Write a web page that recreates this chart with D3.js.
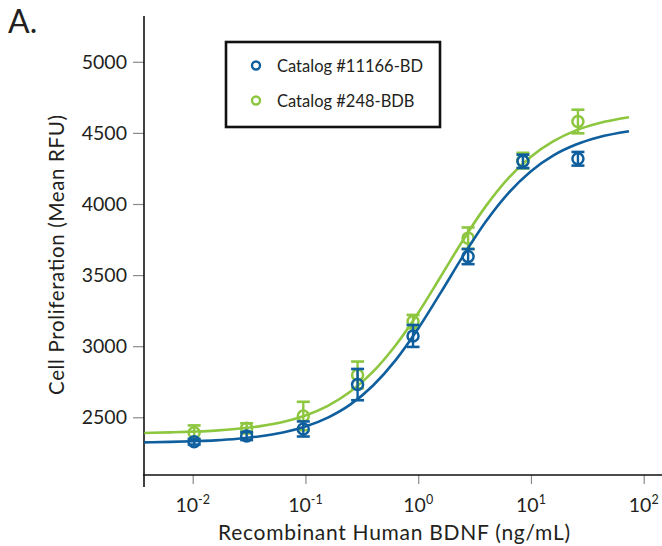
<!DOCTYPE html>
<html>
<head>
<meta charset="utf-8">
<script src="https://cdn.jsdelivr.net/npm/d3@7"></script>
<style>
  html, body { margin: 0; padding: 0; background: #fff; }
  svg { display: block; }
  text { font-family: Lato, "Noto Sans", sans-serif; fill: #231f20; }
</style>
</head>
<body>
<svg id="chart" width="662" height="546"></svg>
<script>
// ---- data ----
const concentrations = [0.0103, 0.0301, 0.0957, 0.290, 0.900, 2.77, 8.49, 26.1]; // ng/mL
const seriesNames = ["Catalog #11166-BD", "Catalog #248-BDB"];
const blueMeans = [2328, 2368, 2418, 2730, 3072, 3630, 4300, 4318];
const blueErrors = [20, 28, 53, 110, 77, 53, 47, 48];
const greenMeans = [2392, 2423, 2509, 2798, 3173, 3760, 4305, 4580];
const greenErrors = [51, 35, 100, 94, 47, 75, 55, 83];

// fitted curves as drawn
const curveConc = [0.00372, 0.00631, 0.01, 0.0158, 0.0251, 0.0398, 0.0631, 0.1, 0.158, 0.251,
                   0.398, 0.631, 1, 1.585, 2.512, 3.981, 6.31, 10, 15.85, 25.12, 39.81, 74.1];
const blueCurve = [2324, 2327, 2332, 2338, 2349, 2367, 2393, 2435, 2498, 2591,
                   2724, 2902, 3124, 3377, 3637, 3877, 4077, 4231, 4342, 4418, 4469, 4511];
const greenCurve = [2390, 2394, 2399, 2406, 2419, 2438, 2467, 2513, 2581, 2681,
                    2821, 3007, 3234, 3490, 3749, 3985, 4182, 4333, 4442, 4518, 4568, 4610];

const yTicks = [2500, 3000, 3500, 4000, 4500, 5000];
const xTicks = [0.01, 0.1, 1, 10, 100];
const xTickExponents = ["-2", "-1", "0", "1", "2"];

const colors = { blue: "#0f5f9f", green: "#8dc63f" };

// ---- scales ----
const svg = d3.select("#chart");
const x = d3.scaleLog().domain([0.01, 100]).range([192.7, 643.7]);
x.domain([x.invert(144), x.invert(662)]).range([144, 662]);
const y = d3.scaleLinear().domain([2500, 5000]).range([417.3, 61.8]);
y.domain([y.invert(475), y.invert(16)]).range([475, 16]);

// ---- panel letter ----
svg.append("text").attr("x", 8).attr("y", 32.5)
  .style("font-size", "32px").text("A.");

// ---- y axis ----
const yAxis = d3.axisLeft(y).tickValues(yTicks).tickSize(11).tickPadding(6).tickFormat(d3.format("d"));
const gy = svg.append("g").attr("transform", "translate(144,0)").call(yAxis);
gy.select(".domain").remove();
gy.selectAll(".tick line").attr("stroke", "#8a8a8a").attr("stroke-width", 1.2);
gy.selectAll(".tick text").style("font-size", "19.5px").attr("fill", "#231f20");
svg.append("line").attr("x1", 144).attr("x2", 144).attr("y1", 16).attr("y2", 487)
  .attr("stroke", "#111").attr("stroke-width", 1.6);

// ---- x axis ----
const xAxis = d3.axisBottom(x).tickValues(xTicks).tickSize(9).tickFormat(() => "");
const gx = svg.append("g").attr("transform", "translate(0,475)").call(xAxis);
gx.select(".domain").remove();
gx.selectAll(".tick line").attr("stroke", "#8a8a8a").attr("stroke-width", 1.2);
svg.append("line").attr("x1", 143).attr("x2", 662).attr("y1", 475).attr("y2", 475)
  .attr("stroke", "#111").attr("stroke-width", 1.6);
xTicks.forEach((t, i) => {
  const tx = svg.append("text").attr("x", x(t)).attr("y", 511.5)
    .attr("text-anchor", "middle").style("font-size", "19.5px");
  tx.append("tspan").text("10");
  tx.append("tspan").attr("dy", -8).style("font-size", "12.5px").text(xTickExponents[i]);
});

// ---- axis titles ----
svg.append("text").attr("x", 394).attr("y", 539.5)
  .attr("text-anchor", "middle").style("font-size", "21px")
  .attr("textLength", 352).attr("lengthAdjust", "spacing")
  .text("Recombinant Human BDNF (ng/mL)");
svg.append("text").attr("transform", "translate(63.5,255) rotate(-90)")
  .attr("text-anchor", "middle").style("font-size", "20.5px")
  .attr("textLength", 280).attr("lengthAdjust", "spacing")
  .text("Cell Proliferation (Mean RFU)");

// ---- series ----
const line = d3.line().x(d => x(d[0])).y(d => y(d[1])).curve(d3.curveMonotoneX);

function drawSeries(means, errs, curve, color) {
  svg.append("path").datum(curveConc.map((c, i) => [c, curve[i]]))
    .attr("d", line).attr("fill", "none").attr("stroke", color).attr("stroke-width", 2.6);
  const g = svg.append("g");
  const pts = concentrations.map((c, i) => ({ c, m: means[i], e: errs[i] }));
  const eb = g.selectAll(".eb").data(pts).enter().append("g");
  eb.append("line").attr("x1", d => x(d.c)).attr("x2", d => x(d.c))
    .attr("y1", d => y(d.m - d.e)).attr("y2", d => y(d.m + d.e))
    .attr("stroke", color).attr("stroke-width", 2.4);
  [-1, 1].forEach(s => {
    eb.append("line").attr("x1", d => x(d.c) - 6.5).attr("x2", d => x(d.c) + 6.5)
      .attr("y1", d => y(d.m + s * d.e)).attr("y2", d => y(d.m + s * d.e))
      .attr("stroke", color).attr("stroke-width", 2.6);
  });
  g.selectAll(".pt").data(pts).enter().append("circle")
    .attr("cx", d => x(d.c)).attr("cy", d => y(d.m)).attr("r", 5.5)
    .attr("fill", "none").attr("stroke", color).attr("stroke-width", 2.5);
}
drawSeries(greenMeans, greenErrors, greenCurve, colors.green);
drawSeries(blueMeans, blueErrors, blueCurve, colors.blue);

// ---- legend ----
svg.append("rect").attr("x", 226).attr("y", 42).attr("width", 214).attr("height", 85)
  .attr("fill", "#fff").attr("stroke", "#111").attr("stroke-width", 2.6);
const legColors = [colors.blue, colors.green];
seriesNames.forEach((n, i) => {
  const cy = 65.5 + i * 35;
  svg.append("circle").attr("cx", 256).attr("cy", cy).attr("r", 4)
    .attr("fill", "none").attr("stroke", legColors[i]).attr("stroke-width", 2.4);
  svg.append("text").attr("x", 277).attr("y", cy + 6).style("font-size", "16.5px").text(n);
});
</script>
</body>
</html>
